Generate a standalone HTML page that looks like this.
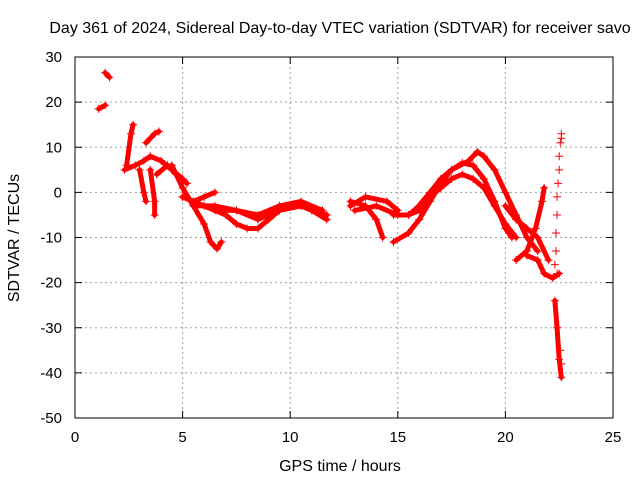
<!DOCTYPE html>
<html><head><meta charset="utf-8"><style>
body{margin:0;background:#fff}
svg{display:block;font-family:"Liberation Sans",sans-serif}
</style></head><body>
<svg id="chart" width="640" height="480" xmlns="http://www.w3.org/2000/svg">
<text x="340" y="33" font-size="16" text-anchor="middle">Day 361 of 2024, Sidereal Day-to-day VTEC variation (SDTVAR) for receiver savo</text>
<text x="340" y="471" font-size="16" text-anchor="middle">GPS time / hours</text>
<text transform="translate(19,238) rotate(-90)" font-size="16" text-anchor="middle">SDTVAR / TECUs</text>
<g id="grid"></g><g id="ticks"></g><g id="marks"></g>
<rect x="75" y="57" width="538" height="361" fill="none" stroke="#000"/>
</svg>
<script>
const xTicks=[0,5,10,15,20,25];
const yTicks=[30,20,10,0,-10,-20,-30,-40,-50];
const tracks=[
[[1.1,18.5],[1.4,19.3]],
[[1.4,26.5],[1.6,25.5]],
[[2.4,6],[2.6,13],[2.7,15]],
[[2.3,5],[2.8,6],[3.2,7],[3.5,8],[4,7],[4.5,5],[5,3]],
[[3.0,5],[3.2,0],[3.3,-2]],
[[3.5,5],[3.7,-2],[3.7,-5]],
[[3.3,11],[3.7,13],[3.9,13.5]],
[[3.8,4],[4.3,6],[4.7,4],[5.2,2]],
[[4.5,6],[5,1],[5.5,-3],[6,-7],[6.3,-11],[6.6,-12.5],[6.8,-11]],
[[5,-1],[5.5,-2],[6,-1],[6.5,0]],
[[5,-1],[6,-3],[7,-5],[7.5,-7],[8,-8],[8.5,-8],[9,-6],[9.5,-4],[10,-3],[10.5,-3],[11,-4],[11.7,-6]],
[[5.5,-3],[6.5,-3],[7.5,-4],[8.5,-5],[9.5,-3],[10.5,-2],[11.5,-4]],
[[6.5,-4],[7.5,-4],[8.5,-6],[9.5,-4],[10.5,-3],[11.7,-5]],
[[12.8,-2],[13.5,-3],[14,-6],[14.3,-10]],
[[12.8,-3],[13.5,-1],[14.5,-2],[15,-4]],
[[13,-4],[14,-3],[15,-5],[15.5,-5],[16,-3]],
[[14.8,-11],[15.5,-9],[16,-6],[16.5,-2],[17,2],[17.5,5],[18,6.5],[18.5,6],[19,3],[19.5,-2],[20,-8],[20.3,-10]],
[[14.8,-5],[15.5,-5],[16,-4],[16.5,-1],[17,1],[17.5,3],[18,4],[18.5,3],[19,1],[19.5,-3],[20,-7],[20.5,-10]],
[[15.8,-4],[16.5,0],[17,3],[17.5,5],[18.3,7],[18.7,9],[19,8],[19.5,5],[20,0],[20.5,-5],[21,-10],[21.5,-13]],
[[20,-3],[20.5,-6],[21,-8],[21.5,-10],[22,-15]],
[[20.5,-15],[21,-13],[21.4,-8],[21.7,-2],[21.8,1]],
[[21,-14],[21.5,-15],[21.8,-18],[22.2,-19],[22.5,-18]],
[[22.3,-24],[22.4,-30],[22.5,-37],[22.6,-41]]
];
const sparse=[[22.6,13],[22.55,11],[22.5,8],[22.5,5],[22.45,2],[22.4,-1],[22.4,-5],[22.35,-9],[22.35,-13],[22.3,-16],[22.4,-18],[22.6,12],[22.55,-35],[22.6,-38]];
const X=v=>75+(v-0)/25*538, Y=v=>57+(30-v)/80*361;
const NS='http://www.w3.org/2000/svg';
function mk(t,a,p){const e=document.createElementNS(NS,t);for(const k in a)e.setAttribute(k,a[k]);p.appendChild(e);return e;}
const grid=document.getElementById('grid'),ticks=document.getElementById('ticks'),marks=document.getElementById('marks');
xTicks.forEach(v=>{const x=X(v);
 if(v>0&&v<25){const g=mk('line',{x1:x,x2:x,y1:57,y2:418,stroke:'#a0a0a0','stroke-dasharray':'2,3'},grid);}
 mk('line',{x1:x,x2:x,y1:418,y2:411,stroke:'#000'},ticks);mk('line',{x1:x,x2:x,y1:57,y2:64,stroke:'#000'},ticks);
 const t=mk('text',{x:x,y:442,'font-size':15,'text-anchor':'middle'},ticks);t.textContent=v;
 });
yTicks.forEach(v=>{const y=Y(v);
 if(v<30&&v>-50){const g=mk('line',{x1:75,x2:613,y1:y,y2:y,stroke:'#a0a0a0','stroke-dasharray':'2,3'},grid);}
 mk('line',{x1:75,x2:82,y1:y,y2:y,stroke:'#000'},ticks);mk('line',{x1:613,x2:606,y1:y,y2:y,stroke:'#000'},ticks);
 const t=mk('text',{x:62,y:y+5,'font-size':15,'text-anchor':'end'},ticks);t.textContent=v;
 });
function plus(x,y){mk('path',{d:`M${X(x)-4},${Y(y)}h8M${X(x)},${Y(y)-4}v8`,stroke:'#f00','stroke-width':1},marks);}
tracks.forEach(tr=>{
 const p=mk('polyline',{points:tr.map(d=>X(d[0])+','+Y(d[1])).join(' '),fill:'none',stroke:'#f00','stroke-width':5,'stroke-linejoin':'round','stroke-linecap':'round'},marks);
 
 
 tr.forEach(d=>plus(d[0],d[1]));});
sparse.forEach(d=>plus(d[0],d[1]));
</script>
</body></html>
